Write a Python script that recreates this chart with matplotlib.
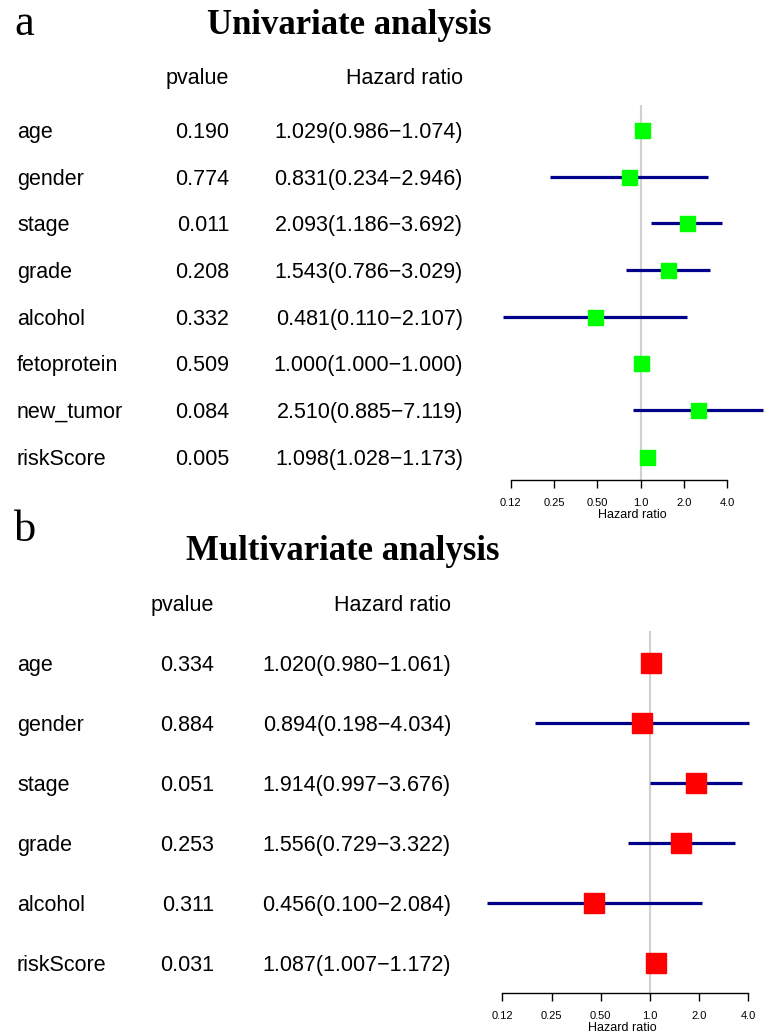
import matplotlib
matplotlib.use('Agg')
import matplotlib.pyplot as plt
from matplotlib.transforms import blended_transform_factory
import numpy as np

plt.rcParams['font.family'] = 'Liberation Sans'

# Univariate data
uni_names = ['age', 'gender', 'stage', 'grade', 'alcohol', 'fetoprotein', 'new_tumor', 'riskScore']
uni_p = [0.190, 0.774, 0.011, 0.208, 0.332, 0.509, 0.084, 0.005]
uni_hr = [1.029, 0.831, 2.093, 1.543, 0.481, 1.000, 2.510, 1.098]
uni_low = [0.986, 0.234, 1.186, 0.786, 0.110, 1.000, 0.885, 1.028]
uni_high = [1.074, 2.946, 3.692, 3.029, 2.107, 1.000, 7.119, 1.173]

# Multivariate data
multi_names = ['age', 'gender', 'stage', 'grade', 'alcohol', 'riskScore']
multi_p = [0.334, 0.884, 0.051, 0.253, 0.311, 0.031]
multi_hr = [1.020, 0.894, 1.914, 1.556, 0.456, 1.087]
multi_low = [0.980, 0.198, 0.997, 0.729, 0.100, 1.007]
multi_high = [1.061, 4.034, 3.676, 3.322, 2.084, 1.172]

tick_vals = [0.125, 0.25, 0.5, 1, 2, 4]
tick_labels = ['0.12', '0.25', '0.50', '1.0', '2.0', '4.0']

W, H = 765, 1034
fig = plt.figure(figsize=(W / 100, H / 100), dpi=100)


def px_axes(left, right, top, bottom):
    return fig.add_axes([left / W, 1 - bottom / H, (right - left) / W, (bottom - top) / H])


def panel(ax, names, p, hr, low, high, color, msize, xl, yl, header_y, xcols):
    n = len(names)
    y = np.arange(n)
    ax.set_xscale('log', base=2)
    ax.set_xlim(2 ** xl[0], 2 ** xl[1])
    ax.set_ylim(yl[1], yl[0])
    ax.axvline(1, color='#d0d0d0', lw=1.5, zorder=0)
    ax.hlines(y, low, high, color='#00008b', lw=2.3, zorder=1)
    ax.plot(hr, y, 's', color=color, ms=msize, mec=color, zorder=2, ls='none')
    for s in ['top', 'right', 'left']:
        ax.spines[s].set_visible(False)
    ax.spines['bottom'].set_bounds(tick_vals[0], tick_vals[-1])
    ax.spines['bottom'].set_linewidth(1.0)
    ax.set_yticks([])
    ax.set_xticks(tick_vals)
    ax.set_xticklabels(tick_labels, fontsize=8)
    ax.minorticks_off()
    ax.tick_params(axis='x', length=6, width=1.0, pad=7)
    ax.set_xlabel('Hazard ratio', fontsize=9, labelpad=1)

    tr = blended_transform_factory(fig.transFigure, ax.transData)
    x_name, x_p, x_hr = xcols
    fs = 15.5
    kw = dict(transform=tr, va='center_baseline', fontsize=fs)
    ax.text(x_p / W, header_y, 'pvalue', ha='right', **kw)
    ax.text(x_hr / W, header_y, 'Hazard ratio', ha='right', **kw)
    for i in range(n):
        ax.text(x_name / W, i, names[i], ha='left', **kw)
        ax.text(x_p / W, i, '%.3f' % p[i], ha='right', **kw)
        ax.text(x_hr / W, i, '%.3f(%.3f\u2212%.3f)' % (hr[i], low[i], high[i]),
                ha='right', **kw)


ax1 = px_axes(500, 765, 105, 480)
panel(ax1, uni_names, uni_p, uni_hr, uni_low, uni_high, '#00ff00', 10.8,
      (-3.249, 2.871), (-0.535, 7.495), -1.156, (17, 229, 463))

ax2 = px_axes(480, 765, 631, 993)
panel(ax2, multi_names, multi_p, multi_hr, multi_low, multi_high, '#ff0000', 13.9,
      (-3.455, 2.337), (-0.533, 5.5), -1.0, (17, 214, 451))

serif = 'Liberation Serif'
fig.text(349 / W, 1 - 25 / H, 'Univariate analysis', ha='center', va='center',
         fontsize=25, fontweight='bold', family=serif)
fig.text(343 / W, 1 - 552 / H, 'Multivariate analysis', ha='center', va='center',
         fontsize=25, fontweight='bold', family=serif)
fig.text(14 / W, 1 - 24 / H, 'a', ha='left', va='center', fontsize=32, family=serif)
fig.text(14 / W, 1 - 530 / H, 'b', ha='left', va='center', fontsize=32, family=serif)

fig.savefig('out.png', dpi=100)
